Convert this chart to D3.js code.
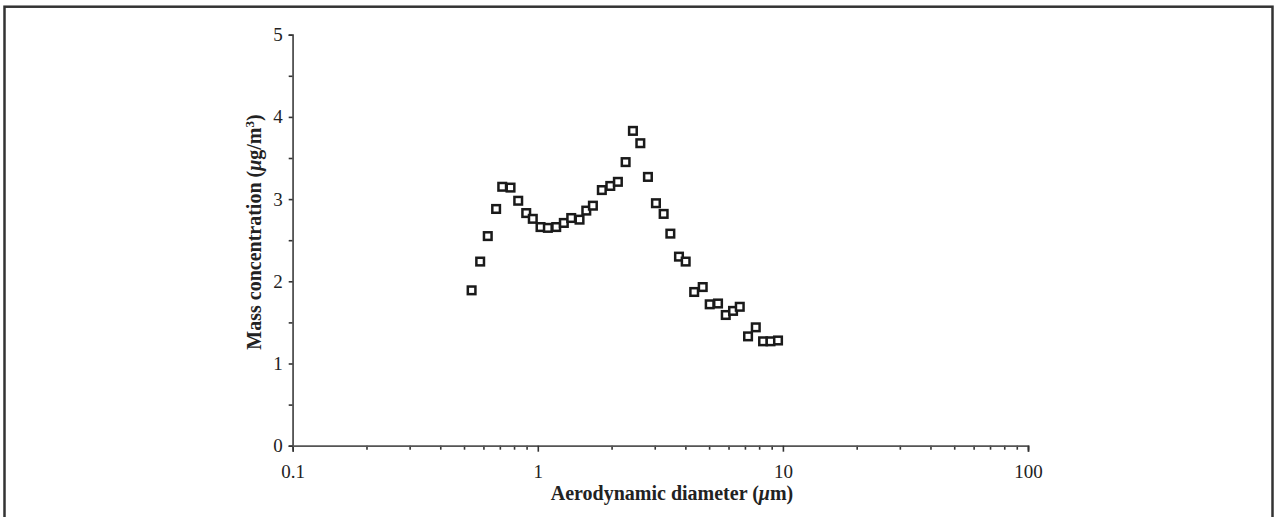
<!DOCTYPE html>
<html>
<head>
<meta charset="utf-8">
<script src="https://cdn.jsdelivr.net/npm/d3@7"></script>
<style>
  body { margin: 0; background: #fff; }
  svg { display: block; }
  text { font-family: "Liberation Serif", "Times New Roman", serif; fill: #222; }
</style>
</head>
<body>
<div id="chart"></div>
<script>
// aerodynamic diameter (um) and mass concentration (ug/m3)
var diameter = [0.537, 0.582, 0.625, 0.676, 0.716, 0.774, 0.832, 0.897, 0.954, 1.026,
                1.099, 1.189, 1.277, 1.369, 1.480, 1.577, 1.678, 1.825, 1.976, 2.122,
                2.282, 2.444, 2.620, 2.814, 3.034, 3.262, 3.474, 3.767, 4.012, 4.346,
                4.708, 5.028, 5.436, 5.846, 6.260, 6.668, 7.208, 7.751, 8.301, 8.900, 9.552];
var concentration = [1.89, 2.24, 2.55, 2.88, 3.15, 3.14, 2.98, 2.83, 2.76, 2.66,
                     2.65, 2.66, 2.71, 2.77, 2.75, 2.86, 2.92, 3.11, 3.16, 3.21,
                     3.45, 3.83, 3.68, 3.27, 2.95, 2.82, 2.58, 2.30, 2.24, 1.87,
                     1.93, 1.72, 1.73, 1.59, 1.64, 1.69, 1.33, 1.44, 1.27, 1.27, 1.28];

var xMajor = [0.1, 1, 10, 100];
var xMajorLabels = ["0.1", "1", "10", "100"];
var yMajor = [0, 1, 2, 3, 4, 5];
var yMinor = [0.5, 1.5, 2.5, 3.5, 4.5];

var W = 1274, H = 517;
var svg = d3.select("#chart").append("svg")
    .attr("width", W)
    .attr("height", H);

// outer frame (open at the bottom, cropped)
svg.append("rect")
    .attr("x", 4.5).attr("y", 6.7)
    .attr("width", 1268).attr("height", 540)
    .attr("fill", "none")
    .attr("stroke", "#333")
    .attr("stroke-width", 2.5);

var x = d3.scaleLog().domain([0.1, 100]).range([292.7, 1028]);
var y = d3.scaleLinear().domain([0, 5]).range([445.7, 34.7]);

// minor x ticks 2..9 in each decade
var xMinor = [];
[0.1, 1, 10].forEach(function(d) {
    for (var k = 2; k <= 9; k++) xMinor.push(+(d * k).toPrecision(3));
});

var gx = svg.append("g").attr("transform", "translate(0," + y(0) + ")");
gx.call(d3.axisBottom(x).tickValues(xMinor).tickSize(4).tickFormat(""));
gx.append("g").call(d3.axisBottom(x).tickValues(xMajor).tickSize(6)
    .tickFormat(function(d, i) { return xMajorLabels[i]; }).tickPadding(13));

var gy = svg.append("g").attr("transform", "translate(" + x(0.1) + ",0)");
gy.call(d3.axisLeft(y).tickValues(yMinor).tickSize(4).tickFormat(""));
gy.append("g").call(d3.axisLeft(y).tickValues(yMajor).tickSize(4).tickPadding(6)
    .tickFormat(d3.format("d")));

svg.selectAll(".domain").attr("stroke", "#555").attr("stroke-width", 1.6);
svg.selectAll(".tick line").attr("stroke", "#333").attr("stroke-width", 1.6);
svg.selectAll(".tick text")
    .attr("font-family", "Liberation Serif, Times New Roman, serif")
    .attr("font-size", 19)
    .attr("fill", "#222");

// axis titles
svg.append("text")
    .attr("x", 672).attr("y", 500)
    .attr("text-anchor", "middle")
    .attr("font-size", 20).attr("font-weight", "bold")
    .html("Aerodynamic diameter (<tspan font-style='italic'>μ</tspan>m)");

svg.append("text")
    .attr("transform", "translate(261,232) rotate(-90)")
    .attr("text-anchor", "middle")
    .attr("font-size", 20).attr("font-weight", "bold")
    .html("Mass concentration (<tspan font-style='italic'>μ</tspan>g/m<tspan dy='-7' font-size='13'>3</tspan><tspan dy='7'>)</tspan>");

// square markers
var s = 7.6;
svg.append("g").selectAll("rect")
    .data(diameter)
    .enter().append("rect")
    .attr("x", function(d) { return x(d) - s / 2; })
    .attr("y", function(d, i) { return y(concentration[i]) - s / 2; })
    .attr("width", s).attr("height", s)
    .attr("fill", "#fff")
    .attr("stroke", "#1a1a1a")
    .attr("stroke-width", 2.5);
</script>
</body>
</html>
